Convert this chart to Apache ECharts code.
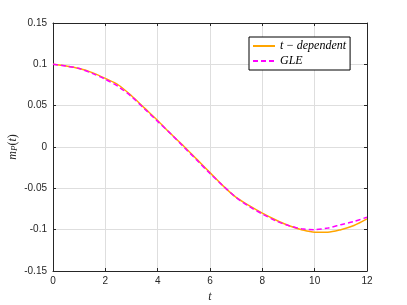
<!DOCTYPE html>
<html>
<head>
<meta charset="utf-8">
<script src="https://cdn.jsdelivr.net/npm/echarts@6/dist/echarts.min.js"></script>
<style>
  html, body { margin: 0; padding: 0; background: #fff; }
  #chart { width: 407px; height: 305px; }
</style>
</head>
<body>
<div id="chart"></div>
<script>
// time samples and the two correlation curves
const tValues = [0, 0.5, 1, 1.5, 2, 2.5, 3, 3.5, 4, 4.5, 5, 5.5, 6, 6.5, 7, 7.5, 8, 8.5, 9, 9.5, 10, 10.5, 11, 11.5, 12];
const tDependent = [0.100, 0.098, 0.095, 0.090, 0.083, 0.075, 0.062, 0.047, 0.032, 0.016, 0.001, -0.015, -0.031, -0.047, -0.061, -0.071, -0.080, -0.088, -0.095, -0.100, -0.103, -0.103, -0.100, -0.095, -0.087];
const gle = [0.100, 0.098, 0.095, 0.089, 0.082, 0.073, 0.061, 0.046, 0.031, 0.016, 0.000, -0.016, -0.032, -0.047, -0.061, -0.072, -0.081, -0.089, -0.095, -0.099, -0.100, -0.098, -0.094, -0.090, -0.085];
const seriesNames = ['t-dependent', 'GLE'];

const axisColor = '#262626';
const gridColor = '#dedede';
const tickFont = { color: axisColor, fontFamily: 'Liberation Sans, Arial, sans-serif', fontSize: 10 };
const mathFont = 'Liberation Serif, DejaVu Serif, serif';

function pairs(ys) {
    return tValues.map((t, i) => [t, ys[i]]);
}

const chart = echarts.init(document.getElementById('chart'), null, { renderer: 'canvas' });

// top and right axes only close the box
const boxAxis = {
    axisLine: { show: true, onZero: false, lineStyle: { color: axisColor, width: 1 } },
    axisTick: { show: true, inside: true, length: 3, lineStyle: { color: axisColor } },
    axisLabel: { show: false },
    splitLine: { show: false }
};

chart.setOption({
    animation: false,
    backgroundColor: '#fff',
    grid: { left: 53, right: 40, top: 23, bottom: 34, outerBoundsMode: 'none', containLabel: false },
    legend: {
        orient: 'vertical',
        left: 249,
        top: 37,
        backgroundColor: '#fff',
        borderColor: '#000',
        borderWidth: 1,
        borderRadius: 0,
        padding: [3, 4, 3, 3],
        itemGap: 3,
        itemWidth: 22,
        itemHeight: 10,
        itemStyle: { opacity: 0 },
        data: seriesNames,
        formatter: function (name) {
            return name === 'GLE' ? '{m|GLE}' : '{m|t} {o|\u2212} {m|dependent}';
        },
        textStyle: {
            rich: {
                m: { fontFamily: mathFont, fontStyle: 'italic', fontSize: 12, color: '#000' },
                o: { fontFamily: mathFont, fontSize: 12, color: '#000' }
            }
        }
    },
    xAxis: [{
        type: 'value',
        min: 0,
        max: 12,
        interval: 2,
        name: 't',
        nameLocation: 'middle',
        nameGap: 20,
        nameMoveOverlap: false,
        nameTextStyle: { fontFamily: mathFont, fontStyle: 'italic', fontSize: 12, color: axisColor },
        axisLine: { show: true, onZero: false, lineStyle: { color: axisColor, width: 1 } },
        axisTick: { show: true, inside: true, length: 3, lineStyle: { color: axisColor } },
        axisLabel: Object.assign({ margin: 5 }, tickFont),
        splitLine: { show: true, lineStyle: { color: gridColor, width: 1 } }
    }, Object.assign({
        type: 'value', position: 'top', min: 0, max: 12, interval: 2
    }, boxAxis)],
    yAxis: [{
        type: 'value',
        min: -0.15,
        max: 0.15,
        interval: 0.05,
        name: '{m|m}{s|P}{o|(}{m|t}{o|)}',
        nameLocation: 'middle',
        nameRotate: 90,
        nameGap: 34,
        nameMoveOverlap: false,
        nameTextStyle: {
            rich: {
                m: { fontFamily: mathFont, fontStyle: 'italic', fontSize: 12, color: axisColor },
                s: { fontFamily: mathFont, fontStyle: 'italic', fontSize: 9, color: axisColor, padding: [4, 0, 0, 0] },
                o: { fontFamily: mathFont, fontSize: 12, color: axisColor }
            }
        },
        axisLine: { show: true, onZero: false, lineStyle: { color: axisColor, width: 1 } },
        axisTick: { show: true, inside: true, length: 3, lineStyle: { color: axisColor } },
        axisLabel: Object.assign({
            margin: 6,
            formatter: v => parseFloat(v.toFixed(2)).toString()
        }, tickFont),
        splitLine: { show: true, lineStyle: { color: gridColor, width: 1 } }
    }, Object.assign({
        type: 'value', position: 'right', min: -0.15, max: 0.15, interval: 0.05
    }, boxAxis)],
    series: [
        {
            name: seriesNames[0],
            type: 'line',
            data: pairs(tDependent),
            smooth: 0.3,
            showSymbol: false,
            symbol: 'none',
            itemStyle: { color: '#ffa500' },
            lineStyle: { color: '#ffa500', width: 1.5 }
        },
        {
            name: seriesNames[1],
            type: 'line',
            data: pairs(gle),
            smooth: 0.3,
            showSymbol: false,
            symbol: 'none',
            itemStyle: { color: '#ff00ff' },
            lineStyle: { color: '#ff00ff', width: 1.5, type: [5, 3] }
        }
    ]
});
</script>
</body>
</html>
